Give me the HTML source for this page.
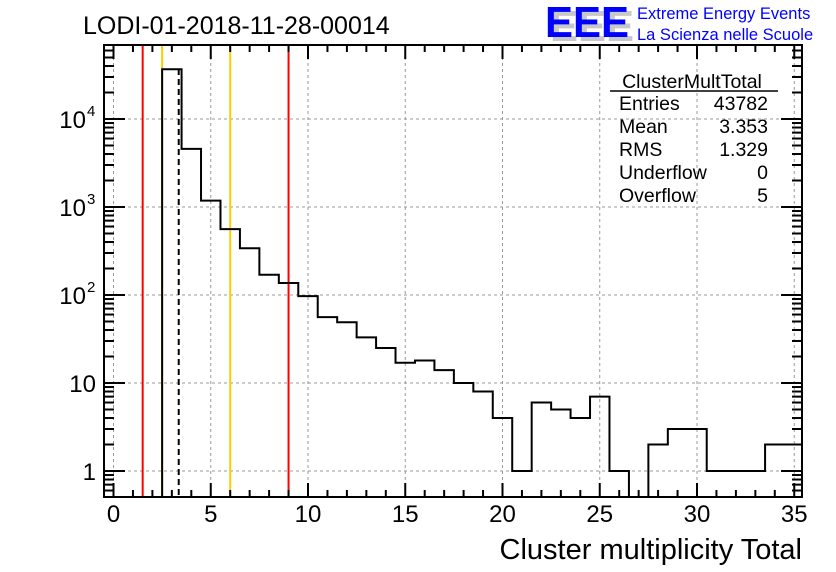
<!DOCTYPE html>
<html><head><meta charset="utf-8"><style>
body{margin:0;background:#fff;}
svg{display:block;font-family:"Liberation Sans",sans-serif;}
</style></head><body>
<svg id="c" width="836" height="572" xmlns="http://www.w3.org/2000/svg">
<defs><clipPath id="pc"><rect x="104" y="45" width="698" height="452"/></clipPath></defs>
<text x="83" y="34" font-size="25">LODI-01-2018-11-28-00014</text>
<g>
<text x="550" y="41" font-size="44" font-weight="bold" fill="#c8c8c8" textLength="84" lengthAdjust="spacingAndGlyphs">EEE</text>
<text x="545" y="37" font-size="44" font-weight="bold" fill="#0000ff" textLength="84" lengthAdjust="spacingAndGlyphs">EEE</text>
<text x="637" y="19" font-size="16.5" fill="#0000ff">Extreme Energy Events</text>
<text x="637" y="40" font-size="16.5" fill="#0000ff">La Scienza nelle Scuole</text>
</g>
<g id="grid"></g>
<g id="marks" clip-path="url(#pc)"></g>
<g id="axes"></g>
<g font-size="19.5">
<text x="692" y="88" text-anchor="middle">ClusterMultTotal</text>
<line x1="610" y1="91" x2="778" y2="91" stroke="#000" stroke-width="1.5"/>
<text x="619" y="110">Entries</text><text x="768" y="110" text-anchor="end">43782</text>
<text x="619" y="133">Mean</text><text x="768" y="133" text-anchor="end">3.353</text>
<text x="619" y="156">RMS</text><text x="768" y="156" text-anchor="end">1.329</text>
<text x="619" y="179">Underflow</text><text x="768" y="179" text-anchor="end">0</text>
<text x="619" y="202">Overflow</text><text x="768" y="202" text-anchor="end">5</text>
</g>
<text x="802" y="559" font-size="29" text-anchor="end">Cluster multiplicity Total</text>
</svg>
<script>
const binCenters=[0,1,2,3,4,5,6,7,8,9,10,11,12,13,14,15,16,17,18,19,20,21,22,23,24,25,26,27,28,29,30,31,32,33,34,35];
const counts=[0,0,0,36700,4570,1180,560,340,170,137,97,56,49,33,25,17,18,14,10,8,4,1,6,5,4,7,1,0,2,3,3,1,1,1,2,2];
const xTicks=[0,5,10,15,20,25,30,35];
const yTicks=[1,10,100,1000,10000];
const yTickLabels=["1","10","10^2","10^3","10^4"];
const redLines=[1.5,9];
const orangeLines=[2.5,6];
const meanValue=3.353;
const L=104,R=802,T=45,B=497;
const NS="http://www.w3.org/2000/svg";
function X(v){return 113.5+v*19.45;}
function Y(v){if(v<=0)return B+2;const y=471-Math.log10(v)*88;return Math.max(T,Math.min(B,y));}
function mk(tag,attrs,parent){const e=document.createElementNS(NS,tag);for(const k in attrs)e.setAttribute(k,attrs[k]);parent.appendChild(e);return e;}
const grid=document.getElementById('grid'),marks=document.getElementById('marks'),axes=document.getElementById('axes');
xTicks.forEach(t=>{const l=mk('line',{x1:X(t),x2:X(t),y1:T,y2:B,stroke:'#999','stroke-dasharray':'3,3','stroke-width':1},grid);

});
yTicks.forEach(t=>{const l=mk('line',{x1:L,x2:R,y1:Y(t),y2:Y(t),stroke:'#999','stroke-dasharray':'3,3','stroke-width':1},grid);

});
redLines.forEach(v=>{const l=mk('line',{x1:X(v),x2:X(v),y1:T,y2:B,stroke:'#ff0000','stroke-width':2},marks);

});
orangeLines.forEach(v=>{const l=mk('line',{x1:X(v),x2:X(v),y1:T,y2:B,stroke:'#ffcc00','stroke-width':2},marks);

});
let d='';
binCenters.forEach((c,i)=>{const x0=X(c-0.5),x1=X(c+0.5),y=Y(counts[i]);
d+=(i===0?'M':'L')+x0+','+y+'L'+x1+','+y;});
const h=mk('path',{d:d,fill:'none',stroke:'#000','stroke-width':2},marks);


const ml=mk('line',{x1:X(meanValue),x2:X(meanValue),y1:T+24,y2:B,stroke:'#000','stroke-width':2,'stroke-dasharray':'6,4'},marks);


const fr=mk('rect',{x:L,y:T,width:R-L,height:B-T,fill:'none',stroke:'#000','stroke-width':2},axes);


for(let v=0;v<=35;v++){const maj=v%5===0;const len=maj?14:7;
mk('line',{x1:X(v),x2:X(v),y1:B,y2:B-len,stroke:'#000','stroke-width':2},axes);
mk('line',{x1:X(v),x2:X(v),y1:T,y2:T+len,stroke:'#000','stroke-width':2},axes);}
xTicks.forEach(t=>{const tx=mk('text',{x:X(t),y:522,'font-size':24,'text-anchor':'middle'},axes);tx.textContent=t;

});
for(let e=-1;e<=4;e++){for(let m=1;m<=9;m++){const v=m*Math.pow(10,e);const y=471-Math.log10(v)*88;if(y<T||y>B)continue;const len=m===1?21:10;
mk('line',{x1:L,x2:L+len,y1:y,y2:y,stroke:'#000','stroke-width':2},axes);
mk('line',{x1:R,x2:R-len,y1:y,y2:y,stroke:'#000','stroke-width':2},axes);}}
yTicks.forEach((t,i)=>{const lab=yTickLabels[i];const tx=mk('text',{x:96,y:Y(t)+9,'font-size':24,'text-anchor':'end'},axes);


if(lab.indexOf('^')>0){const p=lab.split('^');tx.setAttribute('x',86);tx.textContent=p[0];
const s=mk('text',{x:87,y:Y(t)-3,'font-size':15},axes);s.textContent=p[1];

}
else tx.textContent=lab;});
</script>
</body></html>
